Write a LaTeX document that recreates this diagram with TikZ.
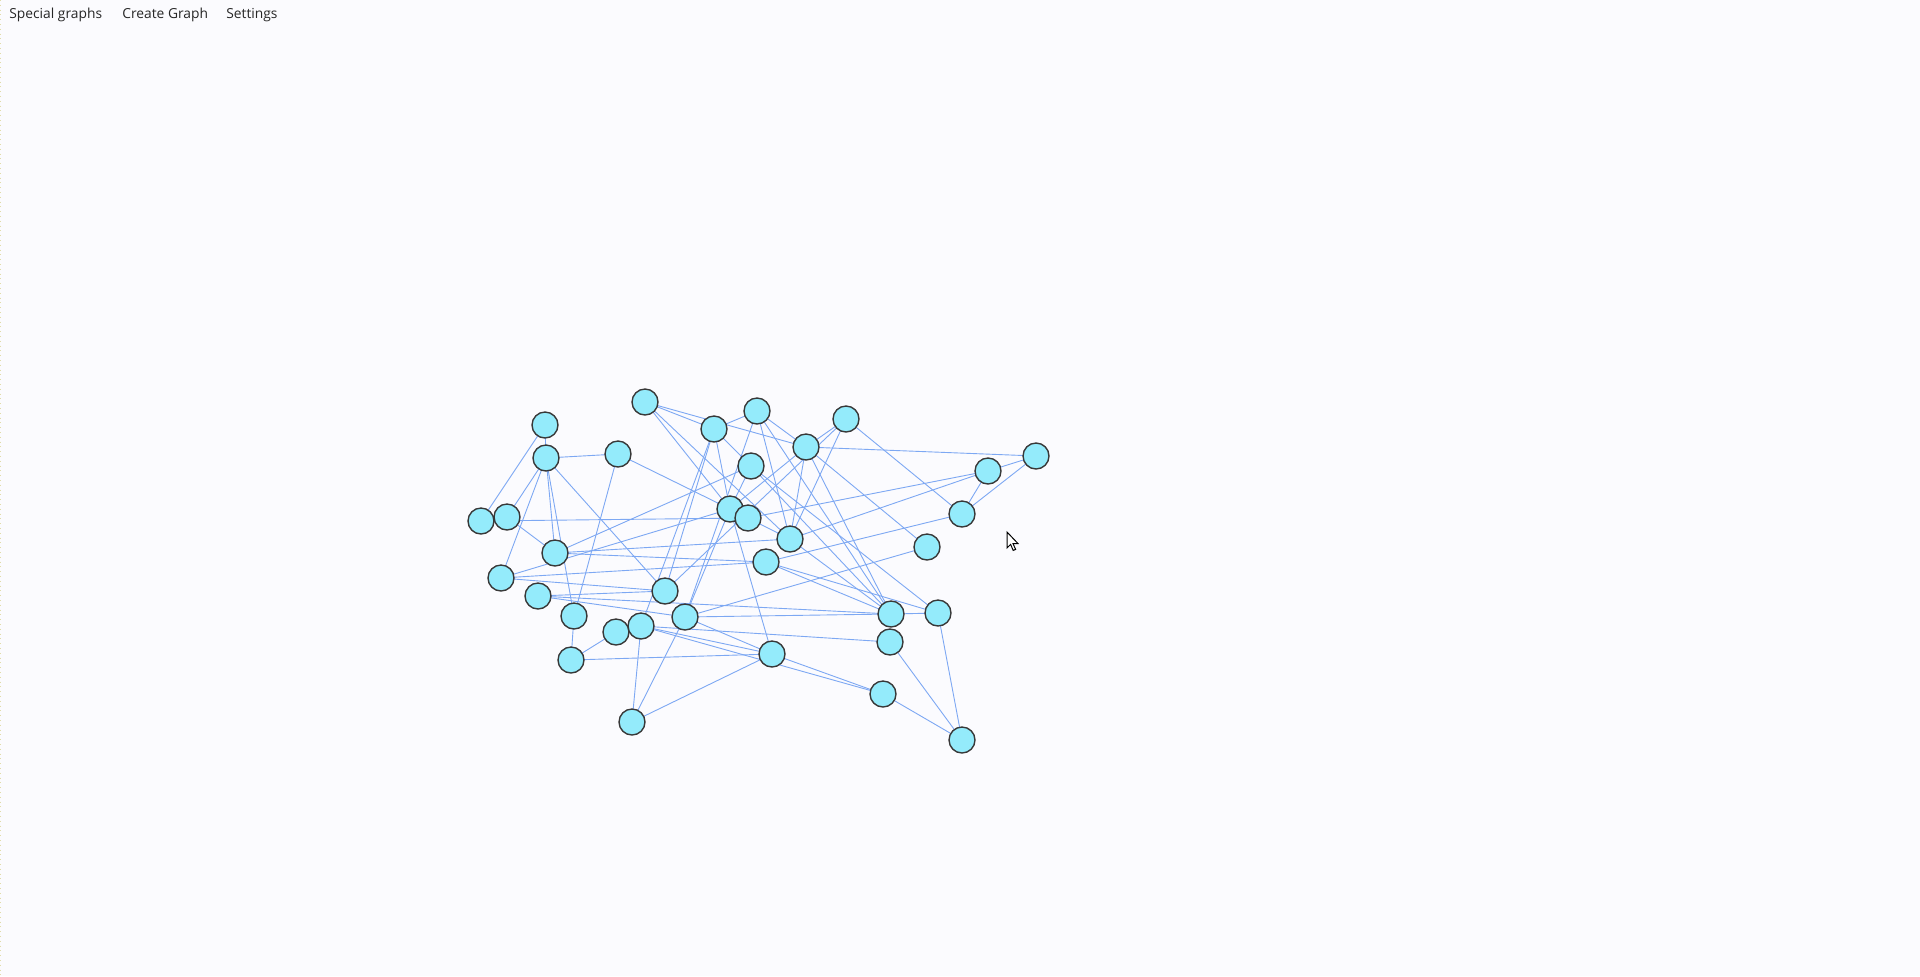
\documentclass[tikz,border=0pt]{standalone}
\usepackage{fontspec}
\setmainfont{Open Sans}
\begin{document}
\begin{tikzpicture}[x=0.5pt,y=-0.5pt,
  vtx/.style={circle,draw=black!78,line width=0.7pt,fill=nodecyan,minimum size=13pt,inner sep=0pt},
  edge/.style={draw=edgeblue,line width=0.45pt},
  menu/.style={anchor=base west,inner sep=0pt,font=\fontsize{6.9pt}{8pt}\selectfont,text=black!85}]
\definecolor{nodecyan}{RGB}{148,235,251}
\definecolor{edgeblue}{RGB}{125,168,243}
\definecolor{bg}{RGB}{251,251,254}
\fill[bg] (0,0) rectangle (1920,976);
\useasboundingbox (0,0) rectangle (1920,976);
\draw[draw={rgb,255:red,225;green,220;blue,170},line width=0.4pt,dotted] (0.5,0) -- (0.5,976);
\node[menu] (m1) at (9,18) {Special graphs};
\node[menu] (m2) at (122,18) {Create Graph};
\node[menu] (m3) at (226,18) {Settings};
% vertex coordinates
\foreach \n/\x/\y in {A/645/402,B/757/411,C/846/419,D/545/425,E/714/429,F/806/447,G/546/458,H/618/454,I/1036/456,J/751/466,K/988/471,L/962/514,M/481/521,N/507/517,O/730/509,P/748/518,Q/790/539,R/927/547,S/555/553,T/766/562,U/501/578,V/665/591,W/538/596,X/574/616,Y/685/617,Z/616/632,a/641/626,b/891/614,c/938/613,d/890/642,e/571/660,f/772/654,g/883/694,h/632/722,i/962/740}
  {\coordinate (p\n) at (\x,\y);}
% edges
\foreach \u/\v in {A/E,A/F,A/O,A/Q,B/E,B/F,B/b,B/Y,B/Q,C/F,C/L,C/Q,E/J,E/O,E/V,E/a,F/I,F/R,F/b,F/O,F/Q,K/I,K/L,L/I,K/P,K/Q,R/Y,D/G,D/M,G/H,G/N,G/U,G/S,G/X,G/V,H/X,H/O,M/P,N/S,S/J,S/T,S/Q,U/T,U/V,W/V,W/b,W/Y,e/Z,e/X,e/f,h/a,h/Y,h/f,Y/f,a/f,a/g,f/g,a/d,Y/b,b/c,c/i,d/i,g/i,Q/b,T/b,T/c,T/L,J/b,J/c,J/O,O/f,O/Y,P/Q,U/O,V/C}
  {\draw[edge] (p\u) -- (p\v);}
% vertices
\foreach \n in {A,B,C,D,E,F,G,H,I,J,K,L,M,N,O,P,Q,R,S,T,U,V,W,X,Y,Z,a,b,c,d,e,f,g,h,i}
  {\node[vtx] (\n) at (p\n) {};}
% mouse cursor
\draw[fill=white,draw=black,line width=0.5pt,line join=miter]
  (1007,532) -- ++(0,16) -- ++(3.6,-3.6) -- ++(2.6,6) -- ++(2.4,-1) -- ++(-2.6,-5.8) -- ++(5,0) -- cycle;
\end{tikzpicture}
\end{document}
